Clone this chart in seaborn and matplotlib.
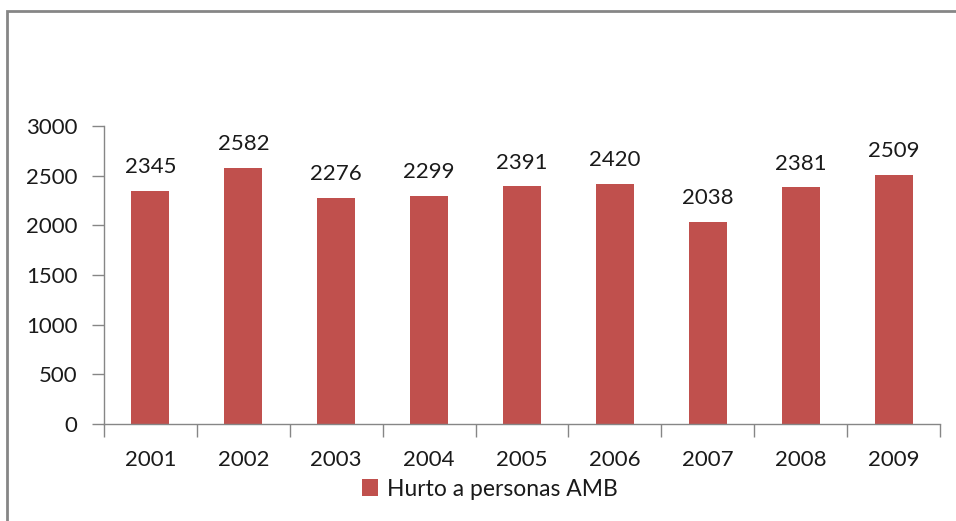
import matplotlib
matplotlib.use("Agg")
import matplotlib.pyplot as plt
import seaborn as sns
import pandas as pd
from matplotlib.patches import Rectangle, Patch

years = ["2001", "2002", "2003", "2004", "2005", "2006", "2007", "2008", "2009"]
values = [2345, 2582, 2276, 2299, 2391, 2420, 2038, 2381, 2509]
series_name = "Hurto a personas AMB"
yticks = [0, 500, 1000, 1500, 2000, 2500, 3000]

sns.set_theme(style="white")
plt.rcParams["font.family"] = ["Lato", "DejaVu Sans"]

W, H = 956, 521
fig = plt.figure(figsize=(W / 100, H / 100), dpi=100)
fig.patch.set_facecolor("white")

# outer chart frame (extends past right/bottom edges)
fig.patches.append(Rectangle((7 / W, -0.1), 1.2, (H - 11) / H + 0.1,
                             transform=fig.transFigure, fill=False,
                             edgecolor="#868686", linewidth=2))

left, right, top, bottom = 104, 940, 126, 424
ax = fig.add_axes([left / W, 1 - bottom / H, (right - left) / W, (bottom - top) / H])

df = pd.DataFrame({"year": years, "value": values})
color = "#C0504D"
sns.barplot(data=df, x="year", y="value", color=color, width=0.41,
            saturation=1, ax=ax, edgecolor="none")

fs = 16
txt = "#1a1a1a"
ax.set_ylim(0, 3000)
ax.set_xlim(-0.5, len(years) - 0.5)
ax.set_yticks(yticks)
ax.set_yticklabels([str(t) for t in yticks], fontsize=fs, color=txt)
ax.set_xlabel("")
ax.set_ylabel("")

for s in ["top", "right"]:
    ax.spines[s].set_visible(False)
for s in ["left", "bottom"]:
    ax.spines[s].set_color("#868686")
    ax.spines[s].set_linewidth(1)

ax.tick_params(axis="y", which="major", direction="out", length=9, width=1,
               color="#868686", pad=10, left=True)
# x ticks at category boundaries, labels centered
ax.set_xticks([i - 0.5 for i in range(len(years) + 1)])
ax.set_xticklabels([""] * (len(years) + 1))
ax.set_xticks(range(len(years)), minor=True)
ax.set_xticklabels(years, minor=True, fontsize=fs, color=txt)
ax.tick_params(axis="x", which="major", direction="out", length=9, width=1,
               color="#868686", bottom=True)
ax.tick_params(axis="x", which="minor", length=0, pad=19)

for i, v in enumerate(values):
    ax.annotate(str(v), (i, v), xytext=(0, 10), textcoords="offset points",
                ha="center", va="bottom", fontsize=fs, color=txt)

handle = Patch(facecolor=color, edgecolor="none")
fig.legend([handle], [series_name], loc="center", bbox_to_anchor=(490 / W, 1 - 489 / H),
           frameon=False, fontsize=16.5, handlelength=0.7, handleheight=0.7,
           handletextpad=0.4, labelcolor=txt, borderpad=0)

fig.savefig("out.png", dpi=100, facecolor="white")
